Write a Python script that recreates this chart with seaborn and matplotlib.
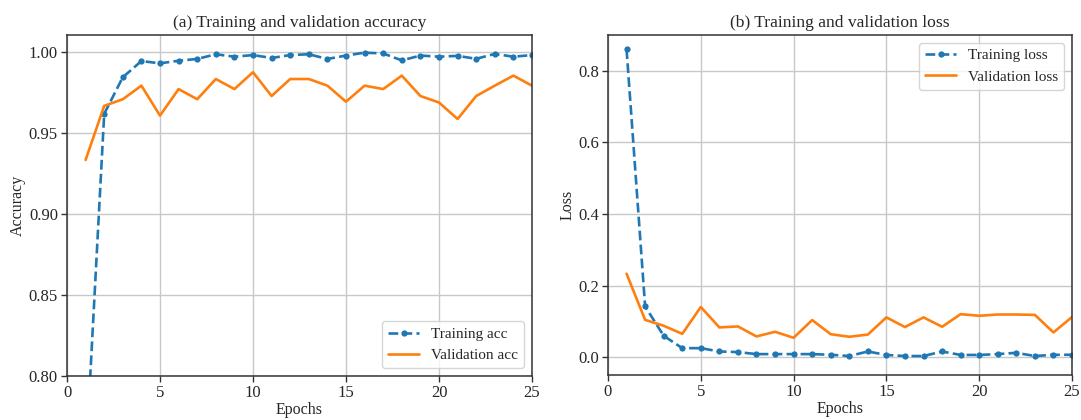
import matplotlib
matplotlib.use("Agg")
import matplotlib.pyplot as plt
import seaborn as sns
import pandas as pd

epochs = list(range(1, 26))
train_acc = [0.746, 0.962, 0.9846, 0.9946, 0.9932, 0.9948, 0.9959, 0.9988, 0.9973, 0.9983,
             0.9965, 0.9983, 0.9988, 0.9959, 0.998, 0.9998, 0.9993, 0.995, 0.998, 0.9973,
             0.9978, 0.996, 0.999, 0.9973, 0.9983]
val_acc = [0.9335, 0.9669, 0.971, 0.9794, 0.9609, 0.9773, 0.971, 0.9835, 0.9773, 0.9877,
           0.973, 0.9835, 0.9835, 0.9794, 0.9695, 0.9794, 0.9773, 0.9856, 0.973, 0.969,
           0.9588, 0.973, 0.9794, 0.9856, 0.9794]
train_loss = [0.86, 0.1416, 0.0596, 0.025, 0.025, 0.0157, 0.014, 0.0084, 0.0084, 0.0084,
              0.0084, 0.0065, 0.003, 0.0157, 0.006, 0.003, 0.003, 0.0157, 0.006, 0.006,
              0.0084, 0.012, 0.003, 0.0065, 0.0065]
val_loss = [0.233, 0.104, 0.0876, 0.065, 0.14, 0.083, 0.0857, 0.0577, 0.0708, 0.054,
            0.1035, 0.064, 0.0568, 0.063, 0.111, 0.084, 0.111, 0.0848, 0.12, 0.1155,
            0.119, 0.119, 0.118, 0.069, 0.112]

titles = ["(a) Training and validation accuracy", "(b) Training and validation loss"]
ylabels = ["Accuracy", "Loss"]
xlabel = "Epochs"

sns.set_style("ticks")
plt.rcParams["font.family"] = ["Liberation Serif", "DejaVu Serif"]

blue = "#1f77b4"
orange = "#ff7f0e"

fig = plt.figure(figsize=(10.81, 4.2), dpi=100)
ax1 = fig.add_axes([67 / 1081, 44 / 420, 465 / 1081, 341 / 420])
ax2 = fig.add_axes([608 / 1081, 45 / 420, 464 / 1081, 340 / 420])

df_a = pd.DataFrame({"epoch": epochs, "train": train_acc, "val": val_acc})
df_b = pd.DataFrame({"epoch": epochs, "train": train_loss, "val": val_loss})

for ax, df, title, ylabel, names in [
    (ax1, df_a, titles[0], ylabels[0], ("Training acc", "Validation acc")),
    (ax2, df_b, titles[1], ylabels[1], ("Training loss", "Validation loss")),
]:
    sns.lineplot(data=df, x="epoch", y="train", ax=ax, color=blue, linestyle="--",
                 marker="o", markersize=4.5, markeredgewidth=0, linewidth=1.9,
                 label=names[0])
    sns.lineplot(data=df, x="epoch", y="val", ax=ax, color=orange, linewidth=1.9,
                 label=names[1])
    ax.set_title(title, fontsize=12.6)
    ax.set_xlabel(xlabel, fontsize=11.5, labelpad=1)
    ax.set_ylabel(ylabel, fontsize=11.5, labelpad=2)
    ax.set_xlim(0, 25)
    ax.grid(True, color="#c8c8c8", linewidth=1.0)
    ax.tick_params(labelsize=12, direction="out", length=4, width=1.0, color="#333333", pad=2.5)
    for s in ax.spines.values():
        s.set_color("#333333")
        s.set_linewidth(1.1)

ax1.set_ylim(0.80, 1.0107)
ax1.set_yticks([0.80, 0.85, 0.90, 0.95, 1.00])
ax1.set_yticklabels(["0.80", "0.85", "0.90", "0.95", "1.00"])
ax1.set_xticks([0, 5, 10, 15, 20, 25])
ax1.legend(loc="lower right", fontsize=11, framealpha=0.8, edgecolor="#cccccc")

ax2.set_ylim(-0.05, 0.90)
ax2.set_yticks([0.0, 0.2, 0.4, 0.6, 0.8])
ax2.set_xticks([0, 5, 10, 15, 20, 25])
ax2.legend(loc="upper right", fontsize=11, framealpha=0.8, edgecolor="#cccccc")

fig.savefig("out.png", dpi=100)
